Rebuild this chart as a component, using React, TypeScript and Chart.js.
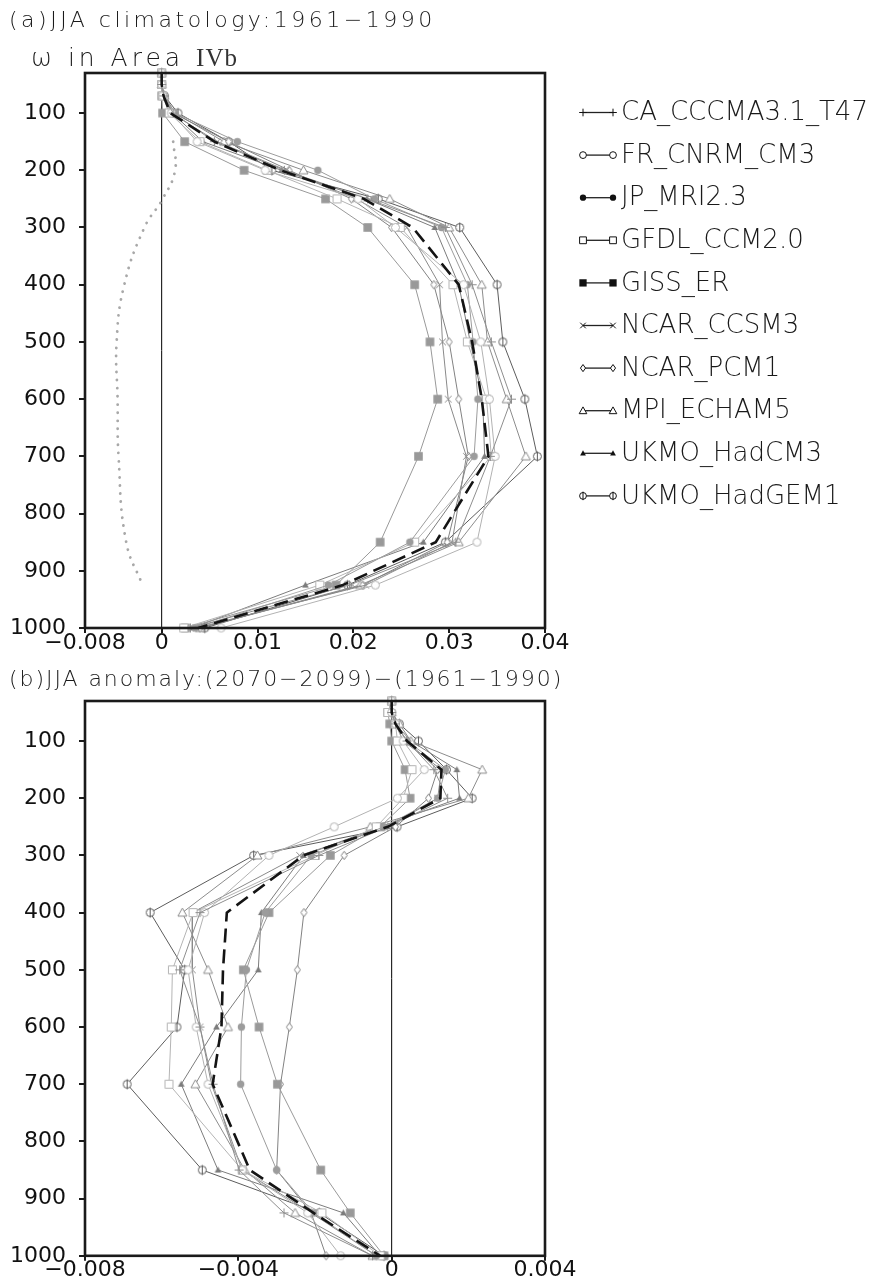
import React, { useEffect, useRef } from "react";
import { Chart, registerables } from "chart.js";
Chart.register(...registerables);

// ---------------- data ----------------
const LEVELS = [30, 50, 70, 100, 150, 200, 250, 300, 400, 500, 600, 700, 850, 925, 1000];
const Y_TICKS = [100, 200, 300, 400, 500, 600, 700, 800, 900, 1000];

const MODEL_NAMES = [
  "CA_CCCMA3.1_T47", "FR_CNRM_CM3", "JP_MRI2.3", "GFDL_CCM2.0", "GISS_ER",
  "NCAR_CCSM3", "NCAR_PCM1", "MPI_ECHAM5", "UKMO_HadCM3", "UKMO_HadGEM1",
];
const MODEL_MARKERS = [
  "plus", "circleOpen", "circleFill", "squareOpen", "squareFill",
  "cross", "diamond", "triOpen", "triFill", "circleBar",
];
const MODEL_COLORS = [
  "#8e8e8e", "#b2b2b2", "#9c9c9c", "#b4b4b4", "#999999",
  "#8a8a8a", "#828282", "#8c8c8c", "#7c7c7c", "#5c5c5c",
];

// (a) climatology 1961-1990 (Pa/s)
const CLIM_CA = [0, 0, 0.0002, 0.0012, 0.0055, 0.0128, 0.0215, 0.0296, 0.0324, 0.0344, 0.0365, 0.0343, 0.0307, 0.0196, 0.0030];
const CLIM_FR = [0, 0, 0.0001, 0.0010, 0.0037, 0.0108, 0.0205, 0.0244, 0.0315, 0.0333, 0.0342, 0.0348, 0.0329, 0.0223, 0.0062];
const CLIM_JP = [0, 0, 0.0002, 0.0014, 0.0079, 0.0163, 0.0222, 0.0292, 0.0319, 0.0325, 0.0330, 0.0326, 0.0259, 0.0174, 0.0035];
const CLIM_GFDL = [0, 0, 0.0001, 0.0008, 0.0040, 0.0110, 0.0183, 0.0249, 0.0304, 0.0319, 0.0339, 0.0344, 0.0264, 0.0165, 0.0023];
const CLIM_GISS = [0, 0, 0.0000, 0.0001, 0.0024, 0.0086, 0.0171, 0.0215, 0.0264, 0.0280, 0.0288, 0.0268, 0.0228, 0.0182, 0.0025];
const CLIM_CCSM3 = [0, 0, 0.0002, 0.0010, 0.0058, 0.0130, 0.0203, 0.0256, 0.0290, 0.0293, 0.0299, 0.0318, 0.0303, 0.0213, 0.0036];
const CLIM_PCM1 = [0, 0, 0.0002, 0.0012, 0.0070, 0.0133, 0.0198, 0.0240, 0.0284, 0.0300, 0.0310, 0.0320, 0.0298, 0.0210, 0.0040];
const CLIM_MPI = [0, 0, 0.0003, 0.0014, 0.0065, 0.0148, 0.0238, 0.0300, 0.0334, 0.0340, 0.0360, 0.0380, 0.0310, 0.0207, 0.0040];
const CLIM_HADCM3 = [0, 0, 0.0002, 0.0011, 0.0043, 0.0125, 0.0214, 0.0285, 0.0310, 0.0322, 0.0335, 0.0337, 0.0273, 0.0150, 0.0032];
const CLIM_HADGEM1 = [0, 0, 0.0003, 0.0017, 0.0070, 0.0115, 0.0226, 0.0311, 0.0350, 0.0356, 0.0379, 0.0392, 0.0296, 0.0194, 0.0045];
const CLIM_MEAN = [0, 0, 0.0002, 0.0009, 0.0055, 0.0124, 0.0211, 0.0262, 0.0310, 0.0324, 0.0334, 0.0341, 0.0286, 0.0189, 0.0038];
const OBS_LEVELS = [150, 200, 250, 300, 400, 500, 600, 700, 850, 925];
const CLIM_OBS = [0.0012, 0.0014, 0.0001, -0.0018, -0.0039, -0.0047, -0.0046, -0.0045, -0.0037, -0.0020];

// (b) anomaly (2070-2099)-(1961-1990)
const ANOM_CA = [0, 0, 0.0001, 0.0004, 0.0011, 0.00146, -0.0001, -0.0019, -0.0050, -0.00553, -0.0050, -0.00466, -0.00398, -0.00281, -0.0005];
const ANOM_FR = [0, 0, 0.0001, 0.0003, 0.00085, 0.00015, -0.0015, -0.0032, -0.00488, -0.00531, -0.0051, -0.00479, -0.0039, -0.00219, -0.00133];
const ANOM_JP = [0, 0, 0.0001, 0.0004, 0.0014, 0.0012, -0.0002, -0.0021, -0.0033, -0.00379, -0.00392, -0.00394, -0.0030, -0.00204, -0.0004];
const ANOM_GFDL = [0, -0.0001, 0.0001, 0.00015, 0.00053, 0.0003, -0.0004, -0.0020, -0.00518, -0.00572, -0.00575, -0.00581, -0.0039, -0.00182, -0.0003];
const ANOM_GISS = [0, -0.0001, -0.00005, 0.0, 0.00035, 0.00048, -0.0003, -0.0016, -0.0032, -0.00387, -0.00346, -0.00298, -0.00185, -0.00108, -0.0002];
const ANOM_CCSM3 = [0, 0, 0.0001, 0.0003, 0.0013, 0.0012, -0.0001, -0.0024, -0.0052, -0.0052, -0.0050, -0.0047, -0.0039, -0.0021, -0.0004];
const ANOM_PCM1 = [0, 0, 0.0001, 0.0004, 0.0012, 0.00096, 0.0001, -0.00124, -0.00229, -0.00246, -0.00267, -0.0029, -0.0030, -0.0021, -0.00171];
const ANOM_MPI = [0, 0, 0.0002, 0.0005, 0.00236, 0.0020, -0.00056, -0.0035, -0.00546, -0.00479, -0.00427, -0.00512, -0.00383, -0.00252, -0.0005];
const ANOM_HADCM3 = [0, 0, 0.0001, 0.0005, 0.0017, 0.00177, -0.0003, -0.0023, -0.0034, -0.00348, -0.00457, -0.00549, -0.00453, -0.00126, -0.0003];
const ANOM_HADGEM1 = [0, 0, 0.0002, 0.0007, 0.00143, 0.0021, 0.00014, -0.0036, -0.0063, -0.0054, -0.0056, -0.0069, -0.00494, -0.00189, -0.0002];
const ANOM_MEAN = [0, 0, 0.0001, 0.0004, 0.0013, 0.00127, -0.0001, -0.0023, -0.0043, -0.0044, -0.00444, -0.00467, -0.0037, -0.00204, -0.0003];

const CLIM_X_TICKS = [-0.008, 0, 0.01, 0.02, 0.03, 0.04];
const CLIM_X_LABELS = ["\u22120.008", "0", "0.01", "0.02", "0.03", "0.04"];
const ANOM_X_TICKS = [-0.008, -0.004, 0, 0.004];
const ANOM_X_LABELS = ["\u22120.008", "\u22120.004", "0", "0.004"];

const CLIM_SERIES = [CLIM_CA, CLIM_FR, CLIM_JP, CLIM_GFDL, CLIM_GISS, CLIM_CCSM3, CLIM_PCM1, CLIM_MPI, CLIM_HADCM3, CLIM_HADGEM1];
const ANOM_SERIES = [ANOM_CA, ANOM_FR, ANOM_JP, ANOM_GFDL, ANOM_GISS, ANOM_CCSM3, ANOM_PCM1, ANOM_MPI, ANOM_HADCM3, ANOM_HADGEM1];

const TEXT_FAMILY = '"DejaVu Sans", "Liberation Sans", sans-serif';

// ---------------- drawing helpers ----------------
function drawMarker(ctx: CanvasRenderingContext2D, kind: string, x: number, y: number, color: string, s: number) {
  ctx.save();
  ctx.strokeStyle = color;
  ctx.fillStyle = color;
  ctx.lineWidth = 1;
  ctx.beginPath();
  switch (kind) {
    case "plus":
      ctx.moveTo(x - 4.5 * s, y); ctx.lineTo(x + 4.5 * s, y);
      ctx.moveTo(x, y - 4.5 * s); ctx.lineTo(x, y + 4.5 * s);
      ctx.stroke();
      break;
    case "circleOpen":
      ctx.arc(x, y, 4 * s, 0, Math.PI * 2);
      ctx.fillStyle = "#fff"; ctx.fill(); ctx.stroke();
      break;
    case "circleFill":
      ctx.arc(x, y, 3.7 * s, 0, Math.PI * 2);
      ctx.fill();
      break;
    case "squareOpen":
      ctx.rect(x - 4 * s, y - 4 * s, 8 * s, 8 * s);
      ctx.fillStyle = "#fff"; ctx.fill(); ctx.stroke();
      break;
    case "squareFill":
      ctx.rect(x - 4.3 * s, y - 4.3 * s, 8.6 * s, 8.6 * s);
      ctx.fill();
      break;
    case "cross":
      ctx.moveTo(x - 3.3 * s, y - 3.3 * s); ctx.lineTo(x + 3.3 * s, y + 3.3 * s);
      ctx.moveTo(x + 3.3 * s, y - 3.3 * s); ctx.lineTo(x - 3.3 * s, y + 3.3 * s);
      ctx.stroke();
      break;
    case "diamond":
      ctx.moveTo(x, y - 4.2 * s); ctx.lineTo(x + 3 * s, y); ctx.lineTo(x, y + 4.2 * s); ctx.lineTo(x - 3 * s, y); ctx.closePath();
      ctx.fillStyle = "#fff"; ctx.fill(); ctx.stroke();
      break;
    case "triOpen":
      ctx.moveTo(x, y - 4.5 * s); ctx.lineTo(x + 4.5 * s, y + 3.5 * s); ctx.lineTo(x - 4.5 * s, y + 3.5 * s); ctx.closePath();
      ctx.fillStyle = "#fff"; ctx.fill(); ctx.stroke();
      break;
    case "triFill":
      ctx.moveTo(x, y - 3.6 * s); ctx.lineTo(x + 3.4 * s, y + 2.6 * s); ctx.lineTo(x - 3.4 * s, y + 2.6 * s); ctx.closePath();
      ctx.fill();
      break;
    case "circleBar":
      ctx.arc(x, y, 4 * s, 0, Math.PI * 2);
      ctx.fillStyle = "#fff"; ctx.fill(); ctx.stroke();
      ctx.beginPath();
      ctx.moveTo(x, y - 5 * s); ctx.lineTo(x, y + 5 * s);
      ctx.stroke();
      break;
  }
  ctx.restore();
}

function markerCanvas(kind: string, color: string, s: number) {
  const c = document.createElement("canvas");
  c.width = 15; c.height = 15;
  const ctx = c.getContext("2d")!;
  drawMarker(ctx, kind, 7.5, 7.5, color, s);
  return c;
}

type PanelSpec = {
  series: number[][];
  mean: number[];
  obs?: number[];
  xMin: number;
  xMax: number;
  xTicks: number[];
  xLabels: string[];
  canvasW: number;
  canvasH: number;
  area: { left: number; top: number; right: number; bottom: number };
  xPad: number;
  legend: boolean;
};

function makeChart(canvas: HTMLCanvasElement, p: PanelSpec) {
  const datasets: any[] = [];
  datasets.push({
    label: "mean",
    data: LEVELS.map((lv, i) => ({ x: p.mean[i], y: lv })),
    showLine: true,
    borderColor: "#141414",
    borderWidth: 2.6,
    borderDash: [14, 7],
    pointRadius: 0,
    clip: false,
  });
  p.series.forEach((vals, k) => {
    datasets.push({
      label: MODEL_NAMES[k],
      data: LEVELS.map((lv, i) => ({ x: vals[i], y: lv })),
      showLine: true,
      borderColor: MODEL_COLORS[k],
      borderWidth: 1,
      pointStyle: markerCanvas(MODEL_MARKERS[k], MODEL_COLORS[k], 1),
      pointRadius: 5,
      clip: false,
    });
  });
  if (p.obs) {
    datasets.push({
      label: "obs",
      data: OBS_LEVELS.map((lv, i) => ({ x: p.obs![i], y: lv })),
      showLine: true,
      borderColor: "#a8a8a8",
      borderWidth: 2.8,
      borderDash: [0.1, 8],
      borderCapStyle: "round",
      tension: 0.45,
      pointRadius: 0,
      clip: false,
    });
  }

  const framePlugin = {
    id: "frame",
    beforeDatasetsDraw(chart: any) {
      const { ctx, chartArea } = chart;
      const x0 = chart.scales.x.getPixelForValue(0);
      ctx.save();
      ctx.strokeStyle = "#000";
      ctx.lineWidth = 1;
      ctx.beginPath();
      ctx.moveTo(x0, chartArea.top);
      ctx.lineTo(x0, chartArea.bottom);
      ctx.stroke();
      ctx.restore();
    },
    afterDraw(chart: any) {
      const { ctx, chartArea } = chart;
      ctx.save();
      ctx.strokeStyle = "#1a1a1a";
      ctx.lineWidth = 2.6;
      ctx.strokeRect(chartArea.left, chartArea.top, chartArea.right - chartArea.left, chartArea.bottom - chartArea.top);
      if (p.legend) {
        ctx.font = "200 26px " + TEXT_FAMILY;
        ctx.textBaseline = "middle";
        ctx.textAlign = "left";
        MODEL_NAMES.forEach((name, k) => {
          const y = 112.5 + k * 42.6;
          ctx.strokeStyle = "#222";
          ctx.lineWidth = 1.3;
          ctx.beginPath();
          ctx.moveTo(583, y);
          ctx.lineTo(613, y);
          ctx.stroke();
          drawMarker(ctx, MODEL_MARKERS[k], 583, y, "#111", 0.85);
          drawMarker(ctx, MODEL_MARKERS[k], 613, y, "#111", 0.85);
          ctx.fillStyle = "#1a1a1a";
          ctx.fillText(name, 621, y + 1);
        });
      }
      ctx.restore();
    },
  };

  const tickFont = { family: TEXT_FAMILY, size: 22 };

  return new Chart(canvas, {
    type: "scatter",
    data: { datasets },
    plugins: [framePlugin],
    options: {
      responsive: false,
      animation: false,
      events: [],
      layout: {
        padding: { left: 0, top: p.area.top, right: p.canvasW - p.area.right, bottom: 0 },
      },
      plugins: { legend: { display: false }, tooltip: { enabled: false } },
      scales: {
        x: {
          type: "linear",
          min: p.xMin,
          max: p.xMax,
          afterFit(s: any) { s.height = p.canvasH - p.area.bottom; },
          afterBuildTicks(s: any) { s.ticks = p.xTicks.map((v) => ({ value: v })); },
          grid: { drawOnChartArea: false, drawTicks: true, tickLength: 5, color: "#1a1a1a", lineWidth: 2 },
          border: { display: false },
          ticks: {
            autoSkip: false,
            maxRotation: 0,
            padding: p.xPad,
            color: "#111",
            font: tickFont,
            callback: (v: any) => {
              const idx = p.xTicks.findIndex((t) => Math.abs(t - Number(v)) < 1e-9);
              return idx >= 0 ? p.xLabels[idx] : "";
            },
          },
        },
        y: {
          type: "linear",
          reverse: true,
          min: 30,
          max: 1000,
          afterFit(s: any) { s.width = p.area.left; },
          afterBuildTicks(s: any) { s.ticks = Y_TICKS.map((v) => ({ value: v })); },
          grid: { drawOnChartArea: false, drawTicks: true, tickLength: 6, color: "#1a1a1a", lineWidth: 2 },
          border: { display: false },
          ticks: {
            autoSkip: false,
            padding: 13,
            color: "#111",
            font: tickFont,
            callback: (v: any) => String(v),
          },
        },
      },
    },
  } as any);
}

export default function App() {
  const refA = useRef<HTMLCanvasElement>(null);
  const refB = useRef<HTMLCanvasElement>(null);

  useEffect(() => {
    const a = makeChart(refA.current!, {
      series: CLIM_SERIES,
      mean: CLIM_MEAN,
      obs: CLIM_OBS,
      xMin: -0.008,
      xMax: 0.04,
      xTicks: CLIM_X_TICKS,
      xLabels: CLIM_X_LABELS,
      canvasW: 873,
      canvasH: 665,
      area: { left: 85, top: 73, right: 545, bottom: 628 },
      xPad: -3,
      legend: true,
    });
    const b = makeChart(refB.current!, {
      series: ANOM_SERIES,
      mean: ANOM_MEAN,
      xMin: -0.008,
      xMax: 0.004,
      xTicks: ANOM_X_TICKS,
      xLabels: ANOM_X_LABELS,
      canvasW: 873,
      canvasH: 617,
      area: { left: 85, top: 36, right: 545, bottom: 591 },
      xPad: -4,
      legend: false,
    });
    return () => {
      a.destroy();
      b.destroy();
    };
  }, []);

  const titleStyle: React.CSSProperties = {
    position: "absolute",
    fontFamily: TEXT_FAMILY,
    fontWeight: 200,
    fontSize: 22,
    whiteSpace: "nowrap",
    color: "#1a1a1a",
    lineHeight: "24px",
  };
  return (
    <div style={{ position: "absolute", left: 0, top: 0, width: 873, height: 1282, background: "#fff", overflow: "hidden" }}>
      <canvas ref={refA} width={873} height={665} style={{ position: "absolute", left: 0, top: 0 }} />
      <canvas ref={refB} width={873} height={617} style={{ position: "absolute", left: 0, top: 665 }} />
      <div style={{ ...titleStyle, left: 9, top: 8, letterSpacing: "3.5px" }}>
        (a)JJA climatology:1961{"\u2212"}1990
      </div>
      <div style={{ ...titleStyle, left: 31, top: 46, fontSize: 25, letterSpacing: "4px" }}>
        {"\u03c9"} in Area <span style={{ fontFamily: '"Liberation Serif", serif', fontWeight: 400, color: "#333", letterSpacing: "1px" }}>IVb</span>
      </div>
      <div style={{ ...titleStyle, left: 9, top: 667, letterSpacing: "1.95px" }}>
        (b)JJA anomaly:(2070{"\u2212"}2099){"\u2212"}(1961{"\u2212"}1990)
      </div>
    </div>
  );
}
